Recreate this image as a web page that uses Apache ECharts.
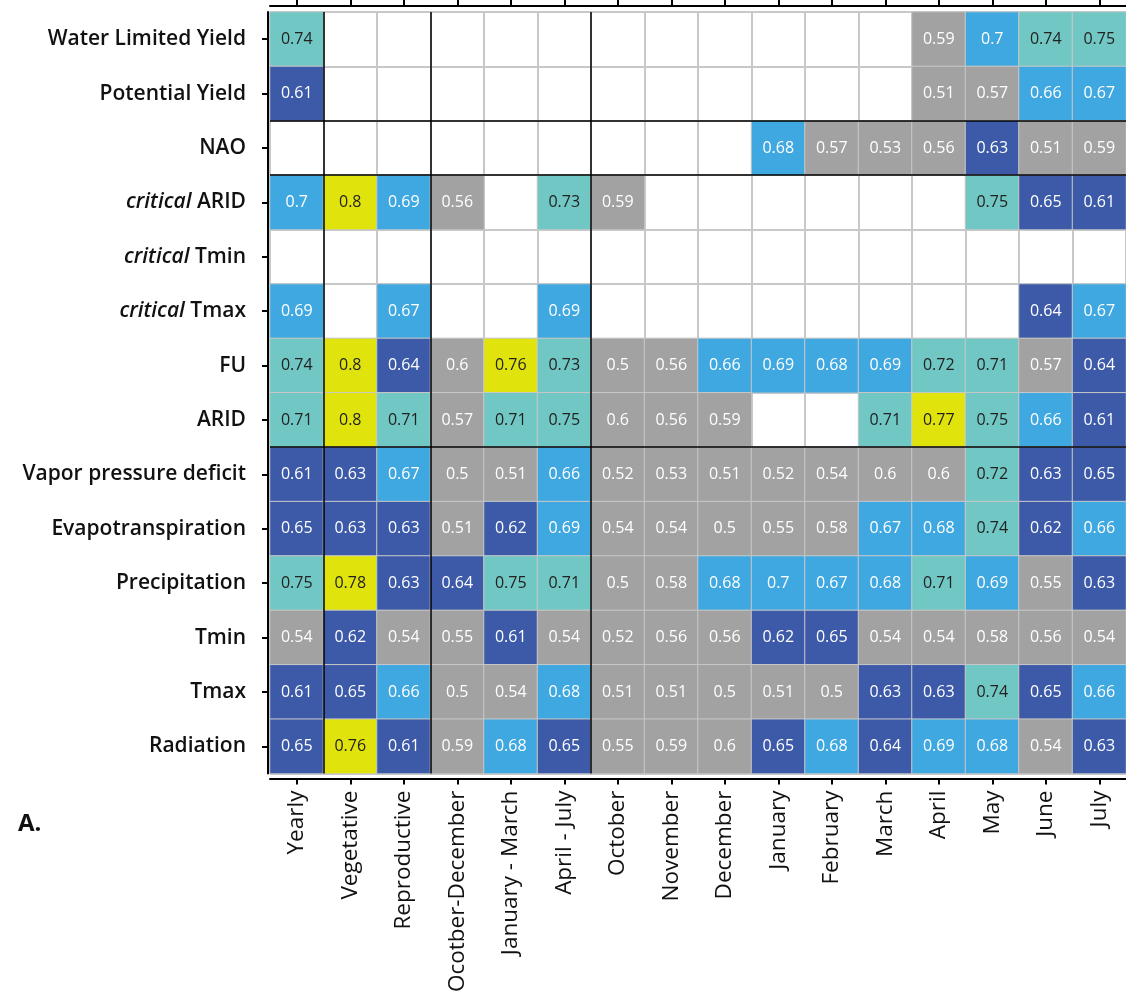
<!DOCTYPE html>
<html>
<head>
<meta charset="utf-8">
<script src="https://cdn.jsdelivr.net/npm/echarts@6/dist/echarts.min.js"></script>
<style>
    html, body { margin: 0; padding: 0; background: #fff; }
    #chart { width: 1126px; height: 1002px; }
</style>
</head>
<body>
<div id="chart"></div>
<script>
// columns (periods)
const periods = ['Yearly', 'Vegetative', 'Reproductive', 'Ocotber-December', 'January - March', 'April - July',
    'October', 'November', 'December', 'January', 'February', 'March', 'April', 'May', 'June', 'July']

// rows, top to bottom
const variables = ['Water Limited Yield', 'Potential Yield', 'NAO', 'critical ARID', 'critical Tmin', 'critical Tmax',
    'FU', 'ARID', 'Vapor pressure deficit', 'Evapotranspiration', 'Precipitation', 'Tmin', 'Tmax', 'Radiation']

// values per row (null = no cell)
const waterLimitedYield = [0.74, null, null, null, null, null, null, null, null, null, null, null, 0.59, 0.7, 0.74, 0.75]
const potentialYield    = [0.61, null, null, null, null, null, null, null, null, null, null, null, 0.51, 0.57, 0.66, 0.67]
const nao               = [null, null, null, null, null, null, null, null, null, 0.68, 0.57, 0.53, 0.56, 0.63, 0.51, 0.59]
const criticalArid      = [0.7, 0.8, 0.69, 0.56, null, 0.73, 0.59, null, null, null, null, null, null, 0.75, 0.65, 0.61]
const criticalTmin      = [null, null, null, null, null, null, null, null, null, null, null, null, null, null, null, null]
const criticalTmax      = [0.69, null, 0.67, null, null, 0.69, null, null, null, null, null, null, null, null, 0.64, 0.67]
const fu                = [0.74, 0.8, 0.64, 0.6, 0.76, 0.73, 0.5, 0.56, 0.66, 0.69, 0.68, 0.69, 0.72, 0.71, 0.57, 0.64]
const arid              = [0.71, 0.8, 0.71, 0.57, 0.71, 0.75, 0.6, 0.56, 0.59, null, null, 0.71, 0.77, 0.75, 0.66, 0.61]
const vpd               = [0.61, 0.63, 0.67, 0.5, 0.51, 0.66, 0.52, 0.53, 0.51, 0.52, 0.54, 0.6, 0.6, 0.72, 0.63, 0.65]
const evapotranspiration = [0.65, 0.63, 0.63, 0.51, 0.62, 0.69, 0.54, 0.54, 0.5, 0.55, 0.58, 0.67, 0.68, 0.74, 0.62, 0.66]
const precipitation     = [0.75, 0.78, 0.63, 0.64, 0.75, 0.71, 0.5, 0.58, 0.68, 0.7, 0.67, 0.68, 0.71, 0.69, 0.55, 0.63]
const tmin              = [0.54, 0.62, 0.54, 0.55, 0.61, 0.54, 0.52, 0.56, 0.56, 0.62, 0.65, 0.54, 0.54, 0.58, 0.56, 0.54]
const tmax              = [0.61, 0.65, 0.66, 0.5, 0.54, 0.68, 0.51, 0.51, 0.5, 0.51, 0.5, 0.63, 0.63, 0.74, 0.65, 0.66]
const radiation         = [0.65, 0.76, 0.61, 0.59, 0.68, 0.65, 0.55, 0.59, 0.6, 0.65, 0.68, 0.64, 0.69, 0.68, 0.54, 0.63]

const rows = [waterLimitedYield, potentialYield, nao, criticalArid, criticalTmin, criticalTmax, fu, arid,
    vpd, evapotranspiration, precipitation, tmin, tmax, radiation]

// group separators (category boundaries)
const columnBreaks = [1, 3, 6]
const rowBreaks = [2, 3, 8]

const colors = {
    grey: '#a2a2a2',
    dark: '#3d5aa9',
    light: '#40a8e0',
    teal: '#71c7c3',
    yellow: '#e0e40c'
}

const cells = []
rows.forEach((row, y) => {
    row.forEach((v, x) => {
        if (v !== null) cells.push([x, y, v])
    })
})

const dividers = []
columnBreaks.forEach(b => dividers.push({ coords: [[b, 0], [b, variables.length]] }))
rowBreaks.forEach(b => dividers.push({ coords: [[0, b], [periods.length, b]] }))

const labelFont = 'Open Sans'
const axisLine = { show: true, onZero: false, lineStyle: { color: '#000', width: 2 } }
const axisTick = { show: true, interval: 0, alignWithLabel: true, length: 6, lineStyle: { color: '#000', width: 2 } }
const chart = echarts.init(document.getElementById('chart'))

const option = {
    animation: false,
    textStyle: { fontFamily: labelFont },
    grid: { left: 270, top: 12, width: 858, height: 761.6, show: false },
    visualMap: {
        show: false,
        type: 'piecewise',
        seriesIndex: 0,
        dimension: 2,
        pieces: [
            { lte: 0.605, color: colors.grey },
            { gt: 0.605, lte: 0.655, color: colors.dark },
            { gt: 0.655, lte: 0.705, color: colors.light },
            { gt: 0.705, lte: 0.755, color: colors.teal },
            { gt: 0.755, color: colors.yellow }
        ]
    },
    xAxis: [
        {
            type: 'category',
            data: periods,
            position: 'bottom',
            offset: 5,
            axisLine,
            axisTick,
            axisLabel: {
                interval: 0,
                rotate: 90,
                margin: 12,
                color: '#111',
                fontSize: 22.5,
                fontWeight: 500,
                fontFamily: labelFont
            },
            splitLine: { show: true, interval: 0, lineStyle: { color: '#c8c8c8', width: 2 } }
        },
        {
            type: 'category',
            data: periods,
            position: 'top',
            offset: 6,
            axisLine,
            axisTick,
            axisLabel: { show: false, interval: 0 },
            splitLine: { show: false }
        },
        {
            type: 'value',
            min: 0,
            max: periods.length,
            show: false
        }
    ],
    yAxis: [
        {
            type: 'category',
            data: variables,
            inverse: true,
            offset: 2,
            axisLine,
            axisTick,
            axisLabel: {
                interval: 0,
                margin: 22,
                color: '#111',
                fontSize: 21,
                fontWeight: 600,
                fontFamily: labelFont,
                formatter: v => {
                    if (v.indexOf('critical ') === 0) {
                        return '{i|critical} {n|' + v.slice(9) + '}'
                    }
                    return v
                },
                rich: {
                    i: { fontStyle: 'italic', fontSize: 21, fontWeight: 600, color: '#111', fontFamily: labelFont },
                    n: { fontSize: 21, fontWeight: 600, color: '#111', fontFamily: labelFont }
                }
            },
            splitLine: { show: true, interval: 0, lineStyle: { color: '#c8c8c8', width: 2 } }
        },
        {
            type: 'value',
            min: 0,
            max: variables.length,
            inverse: true,
            show: false
        }
    ],
    series: [
        {
            type: 'heatmap',
            xAxisIndex: 0,
            yAxisIndex: 0,
            data: cells,
            itemStyle: { borderColor: '#c8c8c8', borderWidth: 1 },
            label: {
                show: true,
                formatter: p => {
                    const v = p.value[2]
                    return v > 0.705 ? '{d|' + v + '}' : '{w|' + v + '}'
                },
                rich: {
                    d: { color: '#222', fontSize: 16, fontFamily: labelFont },
                    w: { color: '#fff', fontSize: 16, fontFamily: labelFont }
                }
            },
            emphasis: { disabled: true }
        },
        {
            type: 'lines',
            coordinateSystem: 'cartesian2d',
            xAxisIndex: 2,
            yAxisIndex: 1,
            silent: true,
            z: 5,
            lineStyle: { color: '#000', width: 1.5, opacity: 1 },
            data: dividers
        }
    ],
    graphic: [
        {
            type: 'text',
            left: 18,
            top: 812,
            style: { text: 'A.', font: 'bold 24px "Open Sans"', fill: '#111' }
        }
    ]
}

chart.setOption(option)
</script>
</body>
</html>
